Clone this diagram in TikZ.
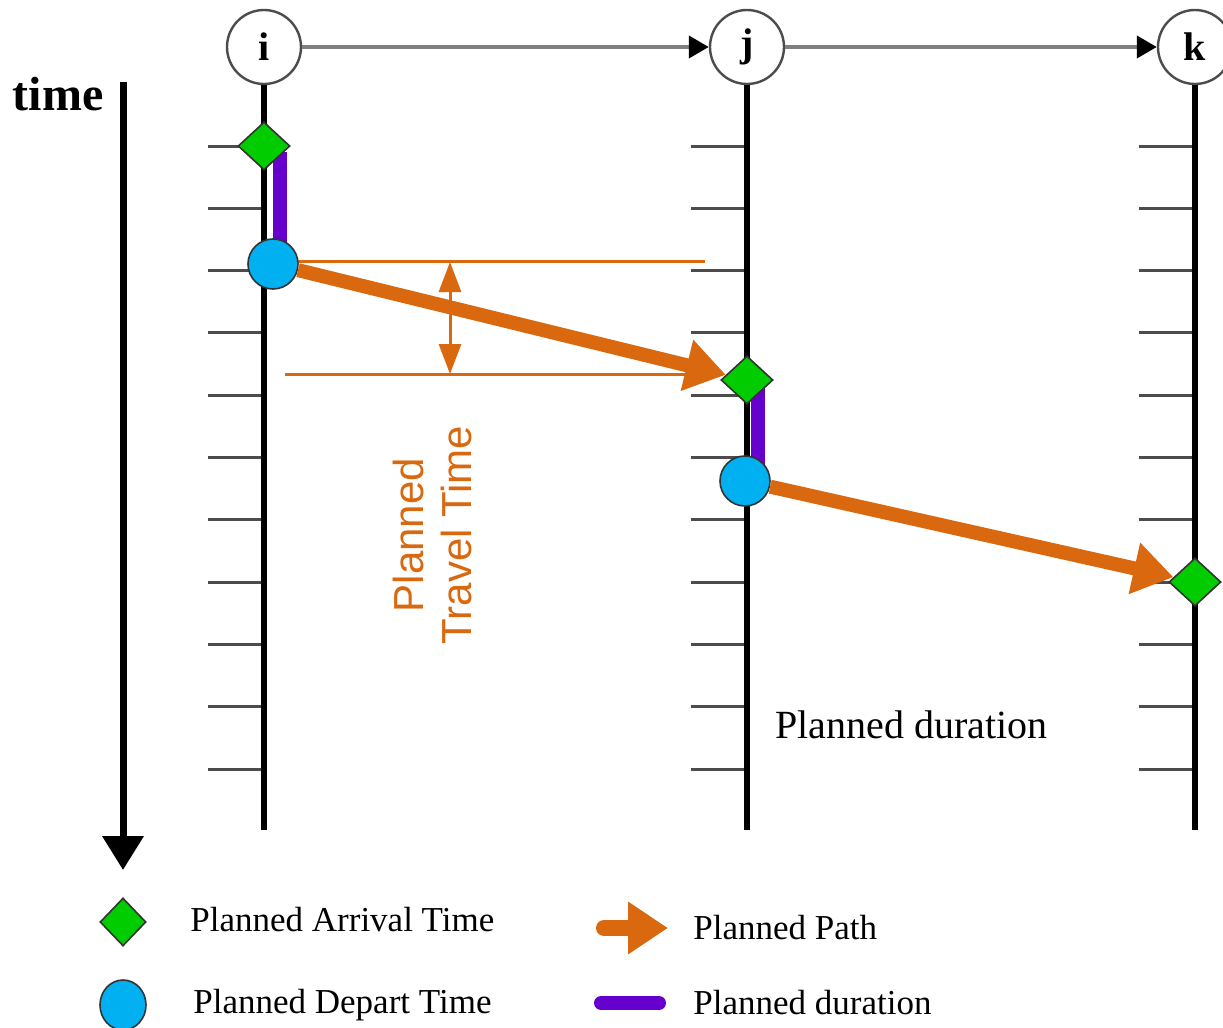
\documentclass[tikz,border=0pt]{standalone}
\usepackage{fontspec}
\setmainfont{Liberation Serif}
\newfontfamily\sansfont{Liberation Sans}
\usetikzlibrary{arrows.meta,shapes.geometric}

\definecolor{pathorange}{RGB}{217,104,14}
\definecolor{arrgreen}{RGB}{0,204,0}
\definecolor{depblue}{RGB}{0,176,240}
\definecolor{durpurple}{RGB}{102,0,204}

\tikzset{
  stop/.style={circle,draw=black!70,line width=1.2pt,fill=white,minimum size=37pt,inner sep=0pt,
    font=\bfseries\fontsize{20}{20}\selectfont},
  arrival/.style={diamond,draw=black!80,line width=0.8pt,fill=arrgreen,minimum width=26pt,minimum height=24pt,inner sep=0pt},
  depart/.style={circle,draw=black!80,line width=0.8pt,fill=depblue,minimum size=25pt,inner sep=0pt},
  timeline/.style={line width=3pt},
  tickmark/.style={line width=1.5pt,black!70},
  linkarrow/.style={line width=2pt,black!50,-{Triangle[black,width=11pt,length=10pt]}},
  planpath/.style={line width=7pt,pathorange,-{Triangle[width=25pt,length=20pt]}},
  dimline/.style={line width=1.5pt,pathorange},
  duration/.style={line width=7pt,durpurple},
  legendtext/.style={anchor=west,inner sep=0pt,font=\fontsize{17.5}{20}\selectfont},
}

\begin{document}
\begin{tikzpicture}[x=0.5pt,y=-0.5pt]

\useasboundingbox (0,0) rectangle (1223,1028);

% time axis
\node[font=\bfseries\fontsize{24}{24}\selectfont] (timelbl) at (58,94) {time};
\coordinate (ttop) at (123,82);
\coordinate (tbot) at (123,870);
\draw[line width=3.5pt,-{Triangle[width=20pt,length=17pt]}] (ttop) -- (tbot);

% stops
\node[stop] (i) at (264,47) {i};
\node[stop] (j) at (747,47) {j};
\node[stop] (k) at (1195,47) {k};

\draw[linkarrow] (i) -- (j);
\draw[linkarrow] (j) -- (k);

% ticks on each time line
\foreach \xl in {264,747,1195}
  \foreach \n in {0,...,10}
    \draw[tickmark] ({\xl-56},{146+62.3*\n}) -- (\xl,{146+62.3*\n});

\coordinate (iend) at (264,830);
\coordinate (jend) at (747,830);
\coordinate (kend) at (1195,830);
\draw[timeline] (i) -- (iend);
\draw[timeline] (j) -- (jend);
\draw[timeline] (k) -- (kend);

% dwell at the stops
\draw[duration] (280,152) -- (280,250);
\draw[duration] (758,388) -- (758,470);

% travel time bracket
\coordinate (dtl) at (298,261);
\coordinate (dtr) at (705,261);
\coordinate (dbl) at (285,374);
\coordinate (dbr) at (720,374);
\draw[dimline] (dtl) -- (dtr);
\draw[dimline] (dbl) -- (dbr);
\coordinate (dimtop) at (450,262);
\coordinate (dimbot) at (450,374);
\draw[dimline,{Triangle[width=11pt,length=15pt]}-{Triangle[width=11pt,length=15pt]}] (dimtop) -- (dimbot);
\node[rotate=90,align=center,text=pathorange,font=\sansfont\fontsize{21}{24}\selectfont] (ttime) at (432,535) {Planned\\Travel Time};

% planned events
\node[arrival] (ai) at (264,146) {};
\node[depart] (bi) at (273,264) {};
\node[arrival] (aj) at (747,380) {};
\node[depart] (bj) at (745,481) {};
\node[arrival] (ak) at (1195,582) {};

\draw[planpath] (bi) -- (aj);
\draw[planpath] (bj) -- (ak);

\node[anchor=west,inner sep=0pt,font=\fontsize{20}{20}\selectfont] (durlbl) at (775,725) {Planned duration};

% legend
\node[arrival,minimum width=23pt,minimum height=24pt] (legarr) at (123,922) {};
\node[legendtext] (legarrt) at (190,920) {Planned Arrival Time};
\node[depart,ellipse,minimum width=23pt,minimum height=25pt] (legdep) at (123,1005) {};
\node[legendtext] (legdept) at (193,1005) {Planned Depart Time};

\coordinate (lpa) at (604,928);
\coordinate (lpb) at (668,928);
\draw[planpath,line width=8pt,line cap=round] (lpa) -- (lpb);
\node[legendtext] (legpath) at (693,928) {Planned Path};

\coordinate (lda) at (601,1003);
\coordinate (ldb) at (659,1003);
\draw[duration,line cap=round] (lda) -- (ldb);
\node[legendtext] (legdur) at (693,1003) {Planned duration};

\end{tikzpicture}
\end{document}
